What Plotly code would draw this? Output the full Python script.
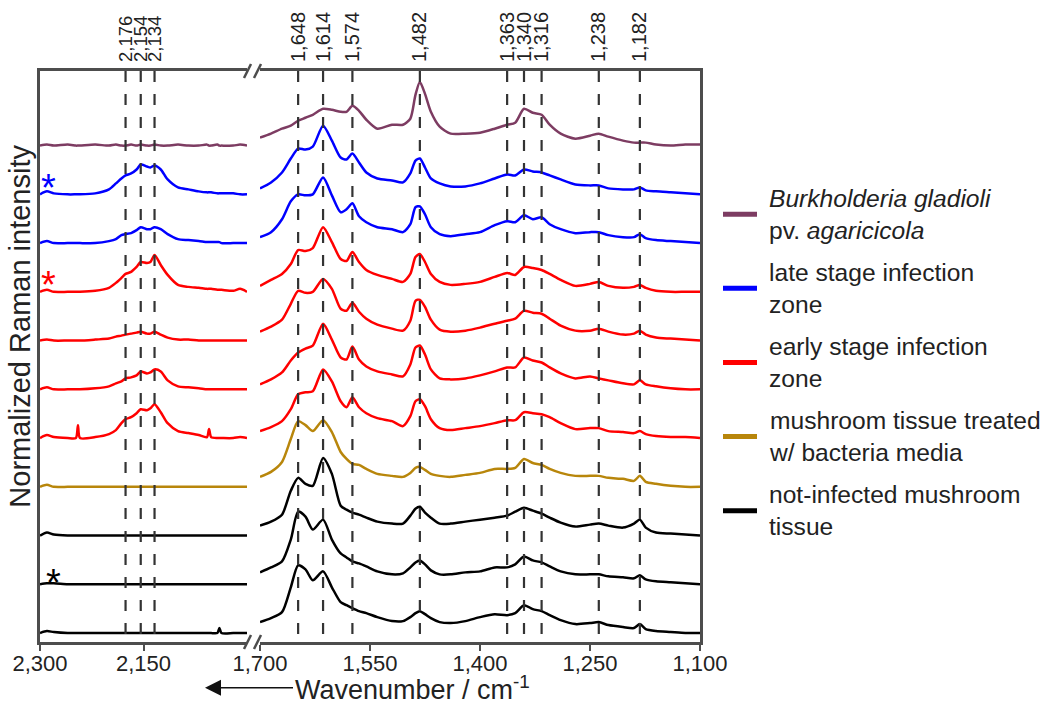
import plotly.graph_objects as go

# ---------------------------------------------------------------
# Raman spectra, broken wavenumber axis (2300-2000 | 1700-1100 cm-1)
# ---------------------------------------------------------------

# wavenumber grids (cm-1)
HIGH_WN = [2300, 2290, 2280, 2260, 2248, 2245, 2242, 2220, 2200, 2190,
           2182, 2176, 2168, 2160, 2154, 2145, 2140, 2134, 2125, 2115,
           2100, 2085, 2070, 2058, 2055, 2052, 2043, 2040, 2037, 2020,
           2010, 2000]
FP_WN = [1700, 1685, 1670, 1658, 1648, 1638, 1628, 1614, 1602, 1590,
         1582, 1574, 1565, 1555, 1540, 1520, 1505, 1495, 1488, 1482,
         1475, 1467, 1455, 1440, 1420, 1400, 1380, 1363, 1352, 1340,
         1328, 1316, 1305, 1290, 1270, 1250, 1238, 1225, 1205, 1190,
         1182, 1174, 1160, 1140, 1120, 1100]

# marked band positions (cm-1)
PEAKS_HIGH = [2176, 2154, 2134]
PEAKS_FP = [1648, 1614, 1574, 1482, 1363, 1340, 1316, 1238, 1182]

# bottom axis ticks
TICKS_HIGH = [2300, 2150]
TICKS_FP = [1700, 1550, 1400, 1250, 1100]

# intensities above each spectrum's own baseline (a.u.)
bga_high = [0, 1, 0, 1, 0, 0, 0, 1, 0, 1, 0, 0, 1, 0, 1, 0, 0, 1, 0, 0,
            1, 0, 0, 1, 0, 0, 1, 0, 0, 0, 1, 0]
bga_fp = [8, 12, 17, 20, 25, 28, 31, 37, 36, 34, 34, 40, 35, 26, 17, 21, 21, 27, 51, 64,
          52, 34, 19, 12, 12, 13, 17, 21, 23, 37, 33, 31, 21, 12, 7, 10, 12, 9, 5, 3,
          3, 3, 1, 0, 1, 1]

late1_high = [0, 3, 1, 0, 0, 0, 0, 1, 5, 11, 16, 19, 21, 25, 30, 28, 27, 29, 25, 15,
              7, 5, 3, 2, 2, 2, 1, 1, 1, 1, 0, 0]
late1_fp = [6, 12, 22, 36, 46, 45, 48, 69, 54, 37, 35, 41, 32, 22, 16, 14, 12, 21, 34, 36,
            27, 16, 11, 8, 8, 11, 16, 20, 19, 25, 23, 22, 19, 15, 10, 9, 9, 6, 5, 5,
            7, 4, 3, 2, 1, 0]

late2_high = [0, 2, 0, 0, 0, 0, 0, 0, 2, 4, 8, 9, 10, 13, 16, 14, 14, 16, 14, 9,
              4, 3, 2, 1, 1, 1, 1, 1, 0, 0, 0, 0]
late2_fp = [6, 11, 24, 42, 49, 48, 49, 66, 48, 31, 34, 40, 27, 21, 16, 14, 11, 19, 36, 37,
            29, 16, 9, 7, 9, 11, 18, 22, 21, 28, 24, 26, 19, 14, 10, 11, 11, 8, 6, 6,
            9, 5, 3, 2, 1, 0]

early1_high = [0, 2, 0, 0, 0, 0, 0, 1, 4, 9, 14, 18, 20, 25, 30, 29, 30, 37, 27, 17,
               7, 5, 4, 3, 3, 3, 2, 2, 2, 1, 3, 0]
early1_fp = [6, 12, 18, 28, 42, 41, 44, 65, 50, 33, 31, 40, 30, 22, 17, 13, 10, 18, 35, 38,
             30, 18, 10, 7, 8, 10, 15, 19, 17, 25, 24, 22, 18, 12, 6, 8, 10, 6, 4, 5,
             7, 4, 1, 0, 0, 0]

early2_high = [0, 1, 0, 0, 0, 0, 0, 1, 2, 4, 5, 6, 7, 8, 9, 7, 7, 9, 6, 3,
               1, 1, 0, 0, 0, 0, 0, 0, 0, 0, 0, 0]
early2_fp = [9, 14, 21, 37, 50, 48, 49, 62, 52, 32, 30, 38, 29, 22, 16, 12, 10, 20, 40, 41,
             34, 21, 11, 9, 10, 13, 17, 20, 22, 30, 28, 27, 22, 15, 10, 10, 12, 9, 6, 7,
             10, 6, 3, 2, 1, 0]

early3_high = [0, 2, 0, 0, 0, 0, 0, 1, 3, 6, 8, 11, 12, 14, 18, 16, 17, 20, 18, 9,
               3, 2, 1, 0, 0, 0, 0, 0, 0, 0, 0, 0]
early3_fp = [5, 10, 17, 29, 37, 41, 44, 66, 50, 32, 30, 43, 30, 23, 18, 15, 13, 25, 42, 44,
             35, 20, 11, 10, 11, 14, 18, 22, 22, 32, 29, 27, 22, 16, 11, 13, 11, 9, 6, 5,
             9, 5, 3, 1, 0, 0]

early4_high = [0, 3, 1, 0, 0, 13, 0, 1, 4, 8, 15, 19, 21, 25, 29, 28, 30, 34, 26, 15,
               7, 5, 3, 1, 9, 1, 0, 0, 0, 0, 1, 0]
early4_fp = [7, 11, 17, 29, 44, 46, 47, 69, 57, 37, 31, 41, 31, 25, 20, 17, 12, 22, 37, 39,
             32, 19, 10, 8, 10, 12, 15, 18, 18, 26, 25, 24, 21, 15, 9, 10, 10, 7, 6, 5,
             7, 4, 2, 1, 1, 0]

media_high = [0, 2, 0, 0, 0, 0, 0, 0, 0, 0, 0, 0, 0, 0, 0, 0, 0, 0, 0, 0,
              0, 0, 0, 0, 0, 0, 0, 0, 0, 0, 0, 0]
media_fp = [10, 15, 25, 48, 66, 62, 56, 67, 55, 35, 28, 23, 22, 18, 13, 11, 10, 14, 19, 20,
            17, 13, 11, 10, 12, 14, 18, 18, 19, 28, 24, 22, 18, 14, 11, 11, 11, 9, 8, 6,
            11, 5, 3, 1, 0, 0]

ctrl1_high = [0, 3, 1, 0, 0, 0, 0, 0, 0, 0, 0, 0, 0, 0, 0, 0, 0, 0, 0, 0,
              0, 0, 0, 0, 0, 0, 0, 0, 0, 0, 0, 0]
ctrl1_fp = [10, 14, 21, 45, 58, 52, 50, 78, 62, 30, 26, 23, 21, 18, 14, 12, 12, 20, 27, 29,
            23, 18, 12, 12, 14, 16, 18, 20, 24, 28, 25, 22, 18, 13, 9, 11, 12, 10, 8, 12,
            16, 8, 3, 2, 1, 0]

ctrl2_high = [0, 1, 1, 0, 0, 0, 0, 0, 0, 0, 0, 0, 0, 0, 0, 0, 0, 0, 0, 0,
              0, 0, 0, 0, 0, 0, 0, 0, 0, 0, 0, 0]
ctrl2_fp = [12, 17, 23, 45, 73, 68, 55, 65, 45, 31, 27, 23, 21, 18, 13, 10, 11, 17, 22, 24,
            20, 14, 10, 10, 12, 13, 17, 17, 20, 28, 24, 22, 18, 13, 10, 10, 10, 8, 7, 6,
            9, 5, 3, 2, 1, 0]

ctrl3_high = [0, 2, 1, 0, 0, 0, 0, 0, 0, 0, 0, 0, 0, 0, 0, 0, 0, 0, 0, 0,
              0, 0, 0, 0, 0, 0, 0, 5, 0, 0, 0, 0]
ctrl3_fp = [11, 15, 21, 46, 68, 64, 53, 62, 46, 31, 28, 25, 22, 20, 16, 12, 12, 16, 20, 22,
            19, 15, 11, 10, 12, 16, 19, 18, 20, 28, 24, 22, 18, 13, 9, 10, 11, 8, 6, 5,
            9, 4, 2, 1, 0, 0]

# sample classes: legend label and colour (in legend order)
CLASSES = {
    "bga": ("<i>Burkholderia gladioli</i><br>pv. <i>agaricicola</i>", "#7d3c62"),
    "late": ("late stage infection<br>zone", "#0000ff"),
    "early": ("early stage infection<br>zone", "#ff0000"),
    "media": ("mushroom tissue treated<br>w/ bacteria media", "#b8860b"),
    "ctrl": ("not-infected mushroom<br>tissue", "#000000"),
}

# stacking order, top to bottom
STACK = [
    ("bga", bga_high, bga_fp),
    ("late", late1_high, late1_fp),
    ("late", late2_high, late2_fp),
    ("early", early1_high, early1_fp),
    ("early", early2_high, early2_fp),
    ("early", early3_high, early3_fp),
    ("early", early4_high, early4_fp),
    ("media", media_high, media_fp),
    ("ctrl", ctrl1_high, ctrl1_fp),
    ("ctrl", ctrl2_high, ctrl2_fp),
    ("ctrl", ctrl3_high, ctrl3_fp),
]

OFFSET_BASE = 9
OFFSET_STEP = 49
Y_TOP = 574

FONT = "Liberation Sans"
TXT = "#222222"
FRAME = "#4d4d4d"
W, H = 1046, 704
ML, MR, MT, MB = 40, 346, 68, 62
PW, PH = W - ML - MR, H - MT - MB


def px(xp):
    return (xp - ML) / PW


def py(yp):
    return (H - MB - yp) / PH


fig = go.Figure()

n = len(STACK)
for i, (cls, high, fp) in enumerate(STACK):
    off = OFFSET_BASE + OFFSET_STEP * (n - 1 - i)
    color = CLASSES[cls][1]
    style = dict(color=color, width=2.5, shape="spline", smoothing=0.7)
    fig.add_trace(go.Scatter(x=HIGH_WN, y=[v + off for v in high], xaxis="x", yaxis="y",
                             mode="lines", line=style, showlegend=False, hoverinfo="skip"))
    fig.add_trace(go.Scatter(x=FP_WN, y=[v + off for v in fp], xaxis="x2", yaxis="y2",
                             mode="lines", line=style, showlegend=False, hoverinfo="skip"))

# dashed band markers
dash = dict(color="#333333", width=2.2, dash="11px,12px")
for p in PEAKS_HIGH:
    fig.add_trace(go.Scatter(x=[p, p], y=[Y_TOP, 0], xaxis="x3", yaxis="y", mode="lines",
                             line=dash, showlegend=False, hoverinfo="skip"))
for p in PEAKS_FP:
    fig.add_trace(go.Scatter(x=[p, p], y=[Y_TOP, 0], xaxis="x4", yaxis="y2", mode="lines",
                             line=dash, showlegend=False, hoverinfo="skip"))

bottom_axis = dict(showline=True, linewidth=2.5, linecolor=FRAME, mirror=True,
                   ticks="outside", ticklen=6, tickwidth=2, tickcolor=FRAME,
                   ticklabelstandoff=-6,
                   showgrid=False, zeroline=False, tickformat=",d", separatethousands=True,
                   tickfont=dict(family=FONT, size=22, color=TXT))
top_axis = dict(side="top", showline=False, ticks="", showgrid=False, zeroline=False,
                tickangle=-90, tickformat=",d", separatethousands=True,
                ticklabelstandoff=8)
y_axis = dict(range=[0, Y_TOP], showline=True, linewidth=2.5, linecolor=FRAME,
              showticklabels=False, ticks="", showgrid=False, zeroline=False)

split_l = px(247)
split_r = px(260)

fig.update_layout(
    width=W, height=H,
    margin=dict(l=ML, r=MR, t=MT, b=MB),
    paper_bgcolor="white", plot_bgcolor="white",
    font=dict(family=FONT, color=TXT),
    showlegend=False,
    xaxis=dict(domain=[0, split_l], range=[2300, 2000], tickvals=TICKS_HIGH,
               anchor="y", **bottom_axis),
    xaxis2=dict(domain=[split_r, 1], range=[1700, 1100], tickvals=TICKS_FP,
                anchor="y2", **bottom_axis),
    xaxis3=dict(overlaying="x", range=[2300, 2000], tickvals=PEAKS_HIGH, anchor="y",
                tickfont=dict(family=FONT, size=18.5, color=TXT), **top_axis),
    xaxis4=dict(overlaying="x2", range=[1700, 1100], tickvals=PEAKS_FP, anchor="y2",
                tickfont=dict(family=FONT, size=20, color=TXT), **top_axis),
    yaxis=dict(anchor="x", side="left", **y_axis),
    yaxis2=dict(anchor="x2", side="right", **y_axis),
)

# legend: swatch + two-line label per sample class
LEGEND_TOP, LEGEND_STEP = 212, 74.5
for j, (label, color) in enumerate(CLASSES.values()):
    yc = LEGEND_TOP + j * LEGEND_STEP
    fig.add_shape(type="line", xref="paper", yref="paper",
                  x0=px(723), x1=px(757), y0=py(yc), y1=py(yc),
                  line=dict(color=color, width=5))
    fig.add_annotation(text=label, xref="paper", yref="paper", x=px(767), y=py(yc),
                       xanchor="left", yanchor="middle", align="left", showarrow=False,
                       font=dict(family=FONT, size=24.6, color=TXT))

# axis break marks
for yb in (MT, H - MB):
    for x0 in (244, 254):
        fig.add_shape(type="line", xref="paper", yref="paper",
                      x0=px(x0), y0=py(yb + 7), x1=px(x0 + 7), y1=py(yb - 7),
                      line=dict(color=FRAME, width=2.5))

# y-axis title
fig.add_annotation(text="Normalized Raman intensity", xref="paper", yref="paper",
                   x=px(20), y=py(325), textangle=-90, showarrow=False,
                   font=dict(family=FONT, size=29, color=TXT),
                   xanchor="center", yanchor="middle")

# x-axis title with direction arrow
fig.add_annotation(text="Wavenumber / cm<sup>-1</sup>", xref="paper", yref="paper",
                   x=px(205), y=py(688), ax=207, ay=0, showarrow=True,
                   arrowhead=2, arrowsize=2, arrowwidth=1.6, arrowcolor="#111111",
                   font=dict(family=FONT, size=27, color=TXT))

# spectra flagged with an asterisk
for yp, xp, color in [(181, 48, "#0000ff"), (278, 48, "#ff0000"), (578, 53, "#000000")]:
    fig.add_annotation(text="*", xref="paper", yref="paper", x=px(xp), y=py(yp + 5),
                       showarrow=False, font=dict(family=FONT, size=38, color=color),
                       xanchor="center", yanchor="middle")

fig.write_html("out.html")
